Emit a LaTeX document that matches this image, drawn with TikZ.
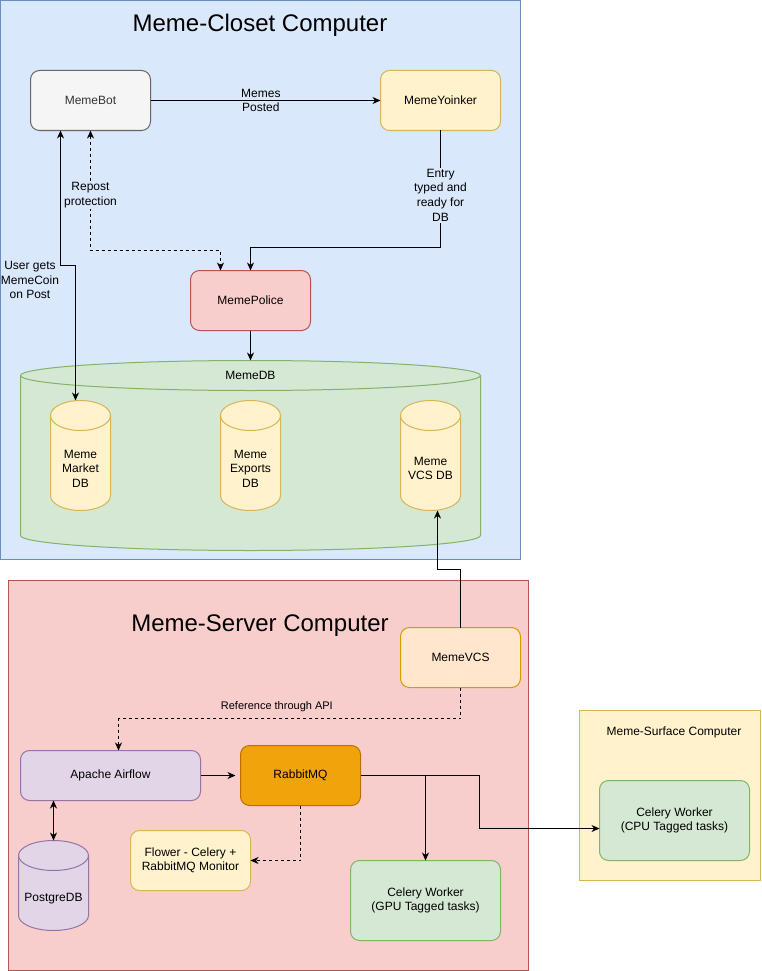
\documentclass[tikz,border=0pt]{standalone}
\usepackage{fontspec}
\setmainfont{Liberation Sans}
\usetikzlibrary{arrows.meta}
\definecolor{closetF}{HTML}{DAE8FC}
\definecolor{closetD}{HTML}{6C8EBF}
\definecolor{redF}{HTML}{F8CECC}
\definecolor{redD}{HTML}{B85450}
\definecolor{yelF}{HTML}{FFF2CC}
\definecolor{yelD}{HTML}{D6B656}
\definecolor{grayF}{HTML}{F5F5F5}
\definecolor{grayD}{HTML}{666666}
\definecolor{darktext}{HTML}{333333}
\definecolor{greenF}{HTML}{D5E8D4}
\definecolor{greenD}{HTML}{82B366}
\definecolor{orF}{HTML}{FFE6CC}
\definecolor{orD}{HTML}{D79B00}
\definecolor{purF}{HTML}{E1D5E7}
\definecolor{purD}{HTML}{9673A6}
\definecolor{rabF}{HTML}{F0A30A}
\definecolor{rabD}{HTML}{BD7000}
% cylinder: name, x1, y1, x2, y2, fill, draw   (y grows downwards)
\newcommand\dbcyl[7]{%
  \filldraw[fill=#6, draw=#7] (#2,#3+15) -- (#2,#5-15)
    arc[start angle=180, end angle=0, x radius={(#4-#2)/2}, y radius=15]
    -- (#4,#3+15)
    arc[start angle=0, end angle=-180, x radius={(#4-#2)/2}, y radius=15] -- cycle;
  \draw[draw=#7] (#2,#3+15) arc[start angle=180, end angle=0, x radius={(#4-#2)/2}, y radius=15];
  \node[inner sep=0pt, outer sep=0pt, minimum width={#4-#2}, minimum height={#5-#3}] (#1) at ({(#2+#4)/2},{(#3+#5)/2}) {};
}
\begin{document}
\begin{tikzpicture}[x=1pt, y=-1pt, line width=1pt,
  >={Stealth[length=8pt,width=7pt,inset=2.5pt]},
  tx/.style={font=\fontsize{12}{14.5}\selectfont, align=center},
  cont/.style={draw, inner sep=0pt, outer sep=0pt, anchor=north west},
  title/.style={font=\fontsize{24}{28}\selectfont},
  box/.style={draw, rounded corners=9pt, inner sep=0pt, outer sep=0pt, align=center, font=\fontsize{12}{14.5}\selectfont},
  lbl/.style={font=\fontsize{12}{14.8}\selectfont, align=center, inner sep=1pt},
  lblsmall/.style={font=\fontsize{11}{13.2}\selectfont, align=center, inner sep=1pt},
  dsh/.style={dash pattern=on 3pt off 3pt}]
\useasboundingbox (0,0) rectangle (761,971);

% containers
\node[cont, fill=closetF, draw=closetD, minimum width=520, minimum height=559] (closet) at (0.5,0.5) {};
\node[title] (closettitle) at (260,25) {Meme-Closet Computer};
\node[cont, fill=redF, draw=redD, minimum width=520, minimum height=390] (server) at (8.5,580.5) {};
\node[title] (servertitle) at (260,626) {Meme-Server Computer};
\node[cont, fill=yelF, draw=yelD, minimum width=181, minimum height=170] (surface) at (579.5,710.5) {};
\node[tx] (surfacetitle) at (674,732) {Meme-Surface Computer};

% boxes
\node[box, fill=grayF, draw=grayD, text=darktext, minimum width=120, minimum height=60] (bot) at (90.5,100.5) {MemeBot};
\node[box, fill=yelF, draw=yelD, minimum width=120, minimum height=60] (yoinker) at (440.5,100.5) {MemeYoinker};
\node[box, fill=redF, draw=redD, minimum width=120, minimum height=60] (police) at (250.5,300.5) {MemePolice};
\node[box, fill=orF, draw=orD, minimum width=120, minimum height=60] (vcs) at (460.5,657.5) {MemeVCS};
\node[box, fill=purF, draw=purD, minimum width=180, minimum height=50] (airflow) at (110.5,775.5) {Apache Airflow};
\node[box, fill=rabF, draw=rabD, minimum width=120, minimum height=60] (rabbit) at (300.5,775.5) {RabbitMQ};
\node[box, fill=yelF, draw=yelD, minimum width=120, minimum height=60] (flower) at (190.5,860.5) {Flower - Celery +\\RabbitMQ Monitor};
\node[box, fill=greenF, draw=greenD, minimum width=150, minimum height=80] (gpu) at (425.5,900.5) {Celery Worker\\(GPU Tagged tasks)};
\node[box, fill=greenF, draw=greenD, minimum width=150, minimum height=80] (cpu) at (674.5,820.5) {Celery Worker\\(CPU Tagged tasks)};

% cylinders
\dbcyl{memedb}{20.5}{360.5}{480.5}{550.5}{greenF}{greenD}
\node[tx] (memedblbl) at (250.5,375.5) {MemeDB};
\dbcyl{mkt}{50.5}{400.5}{110.5}{510.5}{yelF}{yelD}
\node[tx] (mktlbl) at (80.5,468.5) {Meme\\Market\\DB};
\dbcyl{exp}{220.5}{400.5}{280.5}{510.5}{yelF}{yelD}
\node[tx] (explbl) at (250.5,468.5) {Meme\\Exports\\DB};
\dbcyl{vcsdb}{400.5}{400.5}{460.5}{510.5}{yelF}{yelD}
\node[tx] (vcsdblbl) at (430.5,468.5) {Meme\\VCS DB};
\dbcyl{pg}{18.5}{840.5}{88.5}{930.5}{purF}{purD}
\node[tx] (pglbl) at (53.5,898.5) {PostgreDB};

% connectors
\draw[->] (bot.east) -- node[lbl, pos=0.48] {Memes\\Posted} (yoinker.west);

\coordinate (e1) at (440.5,247.5);
\draw[->] (yoinker.south) -- node[lbl, fill=closetF, pos=0.553] {Entry\\typed and\\ready for\\DB} (e1) -| (police.north);

\coordinate (r1) at (90.5,250.5);
\draw[dsh, <->] (bot.south) -- node[lbl, fill=closetF, pos=0.54] {Repost\\protection} (r1) -| ([xshift=-30pt]police.north);

\coordinate (m1) at (60.5,265.5);
\coordinate (m2) at (75.5,265.5);
\draw[<->] ([xshift=-30pt]bot.south) -- (m1) -- (m2) -- ([xshift=-5pt]mkt.north);
\node[lbl] (coinlbl) at (30,280) {User gets\\MemeCoin\\on Post};

\draw[->] (police.south) -- (memedb.north);

\coordinate (v1) at (460.5,569.5);
\draw[->] (vcs.north) -- (v1) -| ([xshift=7pt]vcsdb.south);

\coordinate (a1) at (460.5,718.5);
\coordinate (a2) at (118.5,718.5);
\draw[dsh, ->] (vcs.south) -- (a1) -- node[lblsmall, pos=0.537, yshift=11.5pt] {Reference through API} (a2) -- (a2 |- airflow.north);

\draw[->, shorten >=5pt] (airflow.east) -- (rabbit.west);
\draw[<->] (pg.north |- airflow.south) -- (pg.north);

\coordinate (f1) at (300.5,860.5);
\draw[dsh, ->] (rabbit.south) -- (f1) -- (flower.east);

\coordinate (g1) at (425.5,775.5);
\draw[->] (rabbit.east) -- (g1) -- (g1 |- gpu.north);
\coordinate (c1) at (479.5,775.5);
\coordinate (c2) at (479.5,828.5);
\draw[->] (rabbit.east) -- (c1) -- (c2) -- (c2 -| cpu.west);
\end{tikzpicture}
\end{document}
